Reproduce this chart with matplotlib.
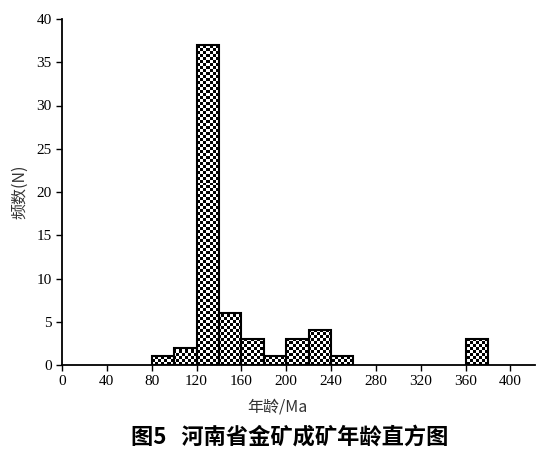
import numpy as np
import matplotlib
matplotlib.use("Agg")
import matplotlib.pyplot as plt

# histogram bins (Ma) and counts
bin_left = [80, 100, 120, 140, 160, 180, 200, 220, 240, 360]
counts = [1, 2, 37, 6, 3, 1, 3, 4, 1, 3]
bin_width = 20
x_ticks = list(range(0, 401, 40))
y_ticks = list(range(0, 41, 5))

cjk = ["Noto Sans CJK SC", "DejaVu Sans"]
serif = "Liberation Serif"

fig = plt.figure(figsize=(5.48, 4.49), dpi=100)
ax = fig.add_axes([62 / 548, 1 - 365 / 449, (535 - 62) / 548, (365 - 19) / 449])

bars = ax.bar(bin_left, counts, width=bin_width, align="edge",
              facecolor="none", edgecolor="black", linewidth=1.5, zorder=3)

ax.set_xlim(0, 422)
ax.set_ylim(0, 40)

# checkerboard fill, clipped to each bar
ny, nx = 116, 158
checker = (np.add.outer(np.arange(ny), np.arange(nx)) % 2).astype(float)
for b in bars:
    im = ax.imshow(checker, cmap="gray", vmin=0, vmax=1, extent=(0, 422, 0, 40),
                   aspect="auto", interpolation="nearest", zorder=2)
    im.set_clip_path(b)

for s in ["top", "right"]:
    ax.spines[s].set_visible(False)
ax.spines["left"].set_linewidth(1.3)
ax.spines["bottom"].set_linewidth(1.3)

ax.set_xticks(x_ticks)
ax.set_yticks(y_ticks)
ax.tick_params(direction="out", length=4, width=1, labelsize=11)
for lab in ax.get_xticklabels() + ax.get_yticklabels():
    lab.set_fontfamily(serif)

ax.set_ylabel("频数(N)", family=cjk, fontsize=11.5, color="#333333", labelpad=6)
fig.text(277 / 548, 1 - 407 / 449, "年龄/Ma", family=cjk, fontsize=11.5,
         color="#333333", ha="center", va="center")

fig.text(290 / 548, 1 - 437 / 449, "图5   河南省金矿成矿年龄直方图", family=cjk,
         fontsize=16, fontweight="bold", ha="center", va="center")

fig.savefig("out.png", dpi=100)
